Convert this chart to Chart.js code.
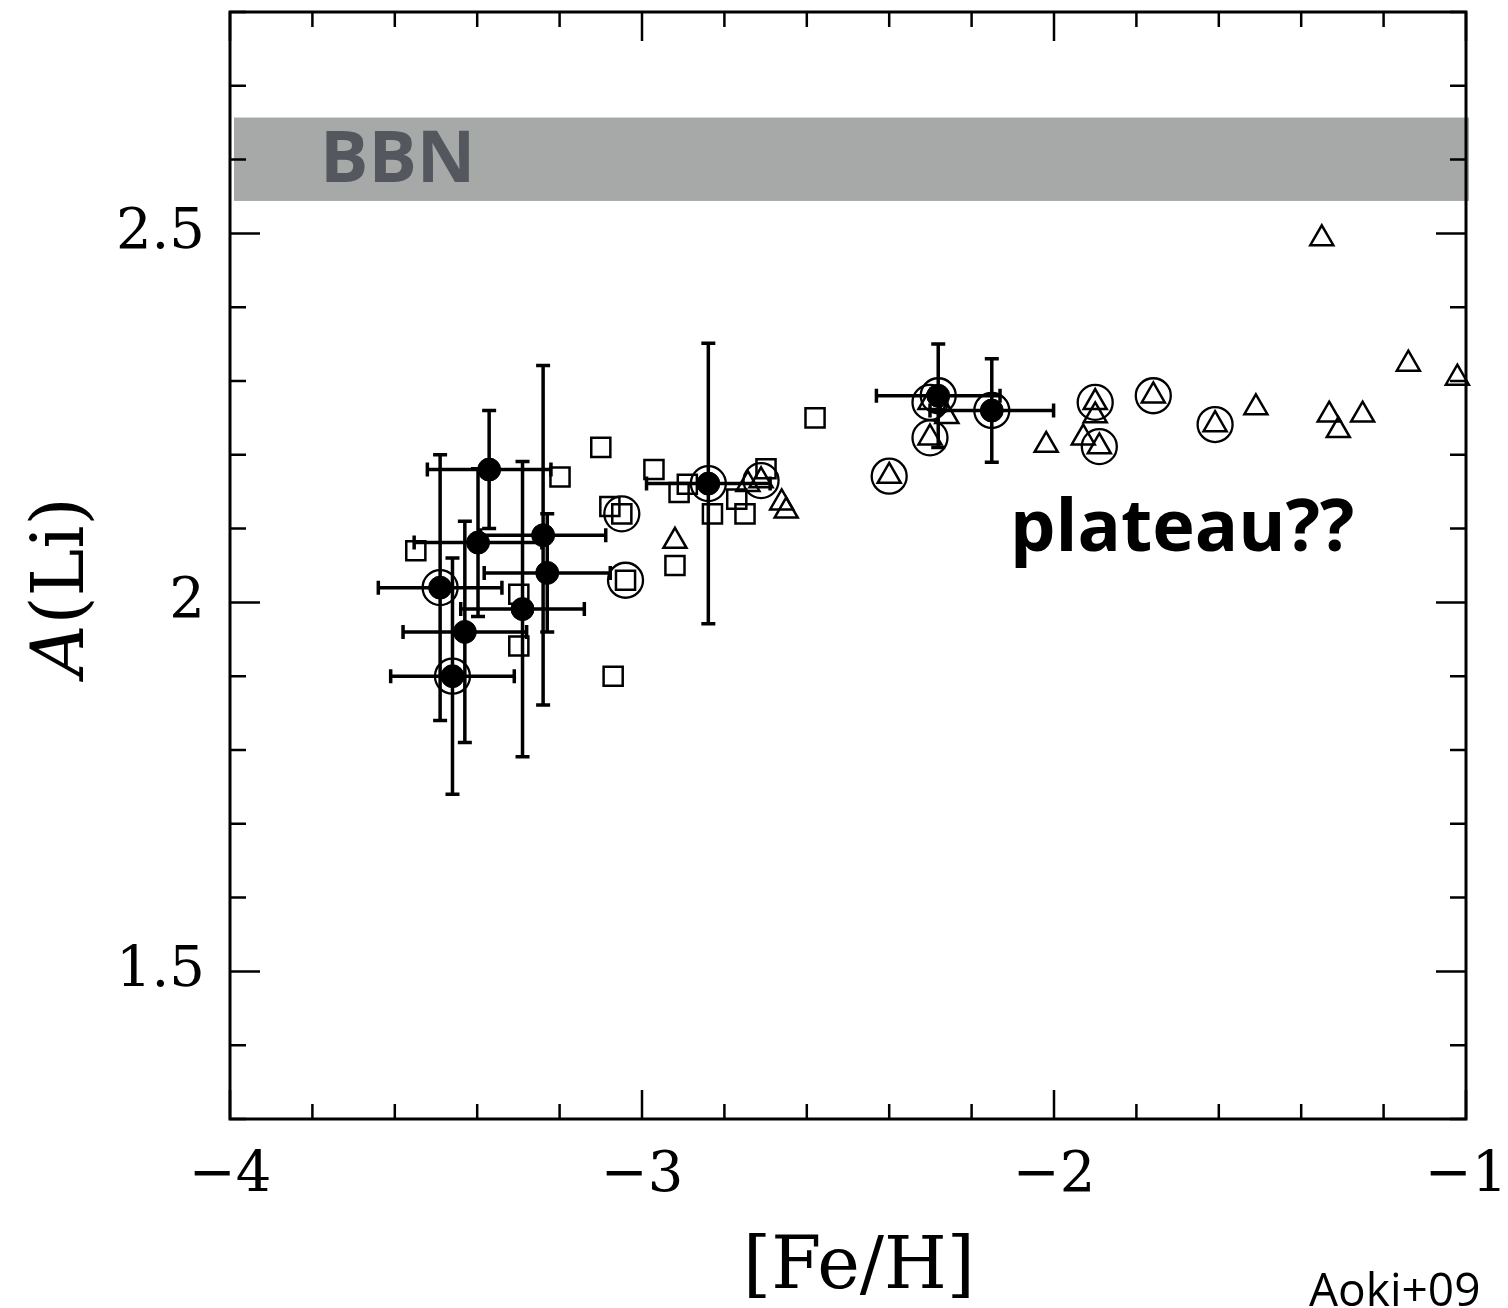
<!DOCTYPE html>
<html>
<head>
<meta charset="utf-8">
<script src="https://cdn.jsdelivr.net/npm/chart.js@4/dist/chart.umd.min.js"></script>
<style>
  html, body { margin: 0; padding: 0; background: #fff; }
  #wrap { width: 1508px; height: 1308px; }
</style>
</head>
<body>
<div id="wrap"><canvas id="chart"></canvas></div>
<script>

// filled circles with error bars
const filledX = [-3.371, -3.398, -3.240, -3.230, -3.490, -3.290, -3.430, -3.460, -2.839, -2.281, -2.151];
const filledY = [2.180, 2.081, 2.091, 2.040, 2.020, 1.991, 1.960, 1.900, 2.161, 2.280, 2.260];
const xErr    = [0.150, 0.155, 0.152, 0.153, 0.150, 0.150, 0.150, 0.150, 0.150, 0.150, 0.150];
const yErr    = [0.080, 0.100, 0.230, 0.080, 0.180, 0.200, 0.150, 0.160, 0.190, 0.070, 0.070];

// open squares
const squareX = [-3.549, -3.299, -3.299, -3.199, -3.100, -3.078, -3.049, -3.070, -3.040,
                 -2.971, -2.920, -2.910, -2.890, -2.829, -2.770, -2.750, -2.699, -2.580];
const squareY = [2.070, 2.011, 1.941, 2.170, 2.210, 2.130, 2.120, 1.900, 2.030,
                 2.180, 2.050, 2.149, 2.160, 2.120, 2.140, 2.120, 2.181, 2.250];

// open triangles
const triX = [-2.920, -2.743, -2.711, -2.661, -2.650, -2.400, -2.301, -2.301, -2.260, -2.019, -1.929, -1.900,
              -1.900, -1.890, -1.759, -1.609, -1.510, -1.350, -1.332, -1.310, -1.251, -1.140, -1.021];
const triY = [2.083, 2.160, 2.165, 2.135, 2.124, 2.171, 2.223, 2.271, 2.252, 2.213, 2.223, 2.271,
              2.253, 2.211, 2.280, 2.241, 2.264, 2.493, 2.254, 2.233, 2.254, 2.323, 2.304];

// rings drawn around some stars
const ringX = [-3.490, -3.460, -2.839, -2.281, -2.151, -3.049, -3.040,
               -2.711, -2.400, -2.301, -2.301, -1.900, -1.890, -1.759, -1.609];
const ringY = [2.020, 1.900, 2.161, 2.280, 2.260, 2.120, 2.030,
               2.165, 2.171, 2.223, 2.271, 2.271, 2.211, 2.280, 2.241];

// BBN prediction band
const bbnLow  = 2.544;
const bbnHigh = 2.657;

// axes
const xMin = -4, xMax = -1, xStep = 0.2;
const yMin = 1.3, yMax = 2.8, yStep = 0.1;
const xLabels = [-4, -3, -2, -1];
const yLabels = [1.5, 2, 2.5];

// ── Helpers ───────────────────────────────────────────────────────────────────

const pts = (xs, ys) => xs.map((x, i) => ({ x, y: ys[i] }));
const near = (v, list) => list.find((l) => Math.abs(v - l) < 1e-6);
const fmtX = (v) => (v < 0 ? '\u2212' : '') + Math.abs(v);
const SERIF = '"DejaVu Serif", serif';

// band + error bars, under the markers
const underlay = {
  id: 'underlay',
  beforeDatasetsDraw(chart) {
    const { ctx, scales: { x, y } } = chart;
    ctx.save();
    const bx0 = x.getPixelForValue(xMin) + 4;
    const bx1 = x.getPixelForValue(xMax) + 3;
    const by0 = y.getPixelForValue(bbnHigh);
    const by1 = y.getPixelForValue(bbnLow);
    ctx.fillStyle = '#a6a9a7';
    ctx.fillRect(bx0, by0, bx1 - bx0, by1 - by0);

    ctx.fillStyle = '#54585e';
    ctx.font = 'bold 72px "Open Sans", sans-serif';
    ctx.textBaseline = 'alphabetic';
    ctx.fillText('BBN', 320, 182);

    ctx.strokeStyle = '#000';
    ctx.lineWidth = 3.5;
    ctx.beginPath();
    const cap = 7;
    filledX.forEach((fx, i) => {
      const cx = x.getPixelForValue(fx);
      const cy = y.getPixelForValue(filledY[i]);
      const x0 = x.getPixelForValue(fx - xErr[i]);
      const x1 = x.getPixelForValue(fx + xErr[i]);
      const y0 = y.getPixelForValue(filledY[i] - yErr[i]);
      const y1 = y.getPixelForValue(filledY[i] + yErr[i]);
      ctx.moveTo(x0, cy); ctx.lineTo(x1, cy);
      ctx.moveTo(cx, y0); ctx.lineTo(cx, y1);
      ctx.moveTo(x0, cy - cap); ctx.lineTo(x0, cy + cap);
      ctx.moveTo(x1, cy - cap); ctx.lineTo(x1, cy + cap);
      ctx.moveTo(cx - cap, y0); ctx.lineTo(cx + cap, y0);
      ctx.moveTo(cx - cap, y1); ctx.lineTo(cx + cap, y1);
    });
    ctx.stroke();
    ctx.restore();
  },
};

// box frame with inward ticks on all four sides, axis titles, notes
const frame = {
  id: 'frame',
  afterDraw(chart) {
    const { ctx, chartArea: a, scales: { x, y } } = chart;
    ctx.save();
    ctx.strokeStyle = '#000';
    ctx.lineWidth = 3;
    ctx.strokeRect(a.left, a.top, a.right - a.left, a.bottom - a.top);

    ctx.lineWidth = 2.5;
    ctx.beginPath();
    x.ticks.forEach((t) => {
      const px = x.getPixelForValue(t.value);
      const len = near(t.value, xLabels) !== undefined ? 29 : 15;
      ctx.moveTo(px, a.bottom); ctx.lineTo(px, a.bottom - len);
      ctx.moveTo(px, a.top);    ctx.lineTo(px, a.top + len);
    });
    y.ticks.forEach((t) => {
      const py = y.getPixelForValue(t.value);
      const len = near(t.value, yLabels) !== undefined ? 30 : 16;
      ctx.moveTo(a.left, py);  ctx.lineTo(a.left + len, py);
      ctx.moveTo(a.right, py); ctx.lineTo(a.right - len, py);
    });
    ctx.stroke();

    // axis titles
    ctx.fillStyle = '#000';
    ctx.textBaseline = 'alphabetic';
    ctx.textAlign = 'center';
    ctx.font = '72px ' + SERIF;
    ctx.fillText('[Fe/H]', 859, 1288);

    ctx.translate(83, 587);
    ctx.rotate(-Math.PI / 2);
    ctx.textAlign = 'left';
    ctx.font = 'italic 72px ' + SERIF;
    const wA = ctx.measureText('A').width;
    ctx.font = '72px ' + SERIF;
    const wRest = ctx.measureText('(Li)').width;
    const start = -(wA + wRest) / 2;
    ctx.font = 'italic 72px ' + SERIF;
    ctx.fillText('A', start, 0);
    ctx.font = '72px ' + SERIF;
    ctx.fillText('(Li)', start + wA, 0);
    ctx.setTransform(1, 0, 0, 1, 0, 0);

    ctx.font = 'bold 72px "Open Sans", sans-serif';
    ctx.fillText('plateau??', 1010, 551);
    ctx.font = '46px "Open Sans", sans-serif';
    ctx.fillText('Aoki+09', 1309, 1306);
    ctx.restore();
  },
};

// ── Chart ─────────────────────────────────────────────────────────────────────

new Chart(document.getElementById('chart'), {
  type: 'scatter',
  data: {
    datasets: [
      {
        label: 'squares',
        data: pts(squareX, squareY),
        pointStyle: 'rect',
        pointRadius: 13.5,
        borderColor: '#000',
        backgroundColor: 'transparent',
        borderWidth: 2.5,
        clip: false,
      },
      {
        label: 'triangles',
        data: pts(triX, triY),
        pointStyle: 'triangle',
        pointRadius: 13.3,
        borderColor: '#000',
        backgroundColor: 'transparent',
        borderWidth: 2.5,
        clip: false,
      },
      {
        label: 'rings',
        data: pts(ringX, ringY),
        pointStyle: 'circle',
        pointRadius: 17.5,
        borderColor: '#000',
        backgroundColor: 'transparent',
        borderWidth: 2.3,
        clip: false,
      },
      {
        label: 'filled',
        data: pts(filledX, filledY),
        pointStyle: 'circle',
        pointRadius: 11.5,
        borderColor: '#000',
        backgroundColor: '#000',
        borderWidth: 1,
        clip: false,
      },
    ],
  },
  options: {
    responsive: true,
    maintainAspectRatio: false,
    animation: false,
    events: [],
    layout: { autoPadding: false, padding: { left: 0, top: 12, right: 42, bottom: 0 } },
    plugins: {
      legend: { display: false },
      tooltip: { enabled: false },
    },
    scales: {
      x: {
        type: 'linear',
        min: xMin, max: xMax,
        grid: { display: false, drawTicks: false },
        border: { display: false },
        ticks: {
          stepSize: xStep,
          autoSkip: false,
          maxRotation: 0,
          padding: 24,
          color: '#000',
          font: { family: SERIF, size: 56 },
          callback: (v) => (near(v, xLabels) !== undefined ? fmtX(near(v, xLabels)) : ''),
        },
        afterFit: (s) => {
          s.height = 189;
          s.paddingLeft = 0; s.paddingRight = 0;
        },
      },
      y: {
        type: 'linear',
        min: yMin, max: yMax,
        grid: { display: false, drawTicks: false },
        border: { display: false },
        ticks: {
          stepSize: yStep,
          autoSkip: false,
          padding: 25,
          color: '#000',
          font: { family: SERIF, size: 56 },
          callback: (v) => (near(v, yLabels) !== undefined ? String(near(v, yLabels)) : ''),
        },
        afterFit: (s) => {
          s.width = 230;
          s.paddingTop = 0; s.paddingBottom = 0;
        },
      },
    },
  },
  plugins: [underlay, frame],
});
</script>
</body>
</html>
